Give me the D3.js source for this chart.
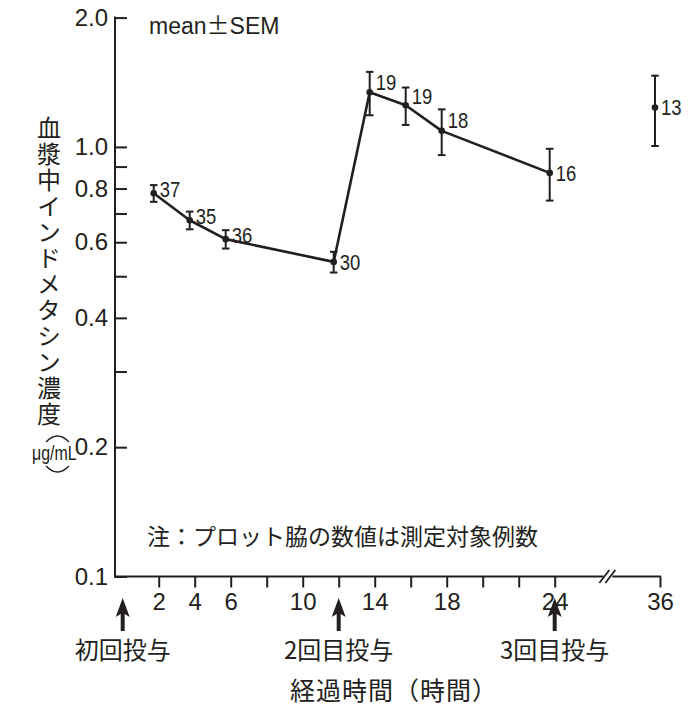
<!DOCTYPE html>
<html>
<head>
<meta charset="utf-8">
<script src="https://cdn.jsdelivr.net/npm/d3@7"></script>
<style>
  body { margin: 0; background: #fff; }
  svg { display: block; }
</style>
</head>
<body>
<script>
// sampling times (h), plasma concentration (ug/mL), SEM, n
const hours = [2, 4, 6, 12, 14, 16, 18, 24, 36];
const meanConc = [0.78, 0.675, 0.61, 0.54, 1.34, 1.25, 1.09, 0.87, 1.235];
const semConc = [0.035, 0.032, 0.03, 0.03, 0.155, 0.125, 0.133, 0.12, 0.23];
const nSubjects = [37, 35, 36, 30, 19, 19, 18, 16, 13];

const doseTimes = [0, 12, 24];
const doseLabels = ["初回投与", "2回目投与", "3回目投与"];

const yTicks = [2.0, 1.0, 0.8, 0.6, 0.4, 0.2, 0.1];
const yMinorTicks = [0.9, 0.7, 0.5, 0.3];
const xTicks = [2, 4, 6, 8, 10, 12, 14, 16, 18, 20, 22, 24, 36];
const xTickLabels = [2, 4, 6, 10, 14, 18, 24, 36];

const yTitle = "血漿中インドメタシン濃度";

const w = 692, h = 707;
const ink = "#231f20";
const latin = "'Liberation Sans', Arial, sans-serif";
const cjk = "'Noto Sans CJK JP', sans-serif";

const svg = d3.select("body").append("svg")
    .attr("width", w)
    .attr("height", h);

const y = d3.scaleLog()
    .domain([0.1, 2])
    .range([576.5, 17.6]);

// piecewise: 0-24 h linear, compressed after the break
const x = d3.scaleLinear()
    .domain([0, 24, 36])
    .range([122.7, 554.7, 660]);

const axisX = 115, breakT = 30;

// y axis
const yAxis = d3.axisLeft(y)
    .tickValues(yTicks.concat(yMinorTicks))
    .tickSizeInner(-12)
    .tickSizeOuter(0)
    .tickPadding(7)
    .tickFormat(d => yTicks.includes(d) ? d3.format(".1f")(d) : "");

const gy = svg.append("g")
    .attr("transform", `translate(${axisX},0)`)
    .call(yAxis);
gy.select(".domain").remove();
gy.selectAll(".tick line").attr("stroke", ink).attr("stroke-width", 2);
gy.selectAll(".tick text")
    .attr("fill", ink)
    .style("font-family", latin)
    .style("font-size", "24px");

svg.append("line")
    .attr("x1", axisX).attr("x2", axisX)
    .attr("y1", y(2) - 1).attr("y2", y(0.1) + 1)
    .attr("stroke", ink).attr("stroke-width", 2);

// x axis
const xAxis = d3.axisBottom(x)
    .tickValues(xTicks)
    .tickSizeInner(11)
    .tickSizeOuter(0)
    .tickPadding(5)
    .tickFormat(d => xTickLabels.includes(d) ? d : "");

const gx = svg.append("g")
    .attr("transform", `translate(0,${y(0.1)})`)
    .call(xAxis);
gx.select(".domain").remove();
gx.selectAll(".tick line").attr("stroke", ink).attr("stroke-width", 2);
gx.selectAll(".tick text")
    .attr("fill", ink)
    .style("font-family", latin)
    .style("font-size", "24px");

const bx = x(breakT);
const y0 = y(0.1);
svg.append("path")
    .attr("d", `M${axisX - 1},${y0}H${bx - 4}M${bx + 5},${y0}H${x(36) + 1}`)
    .attr("fill", "none").attr("stroke", ink).attr("stroke-width", 2);
[-3, 3].forEach(o => {
    svg.append("line")
        .attr("x1", bx + o - 5).attr("y1", y0 + 6.5)
        .attr("x2", bx + o + 5).attr("y2", y0 - 6.5)
        .attr("stroke", ink).attr("stroke-width", 1.8);
});

// data
const data = hours.map((t, i) => ({ t, m: meanConc[i], s: semConc[i], n: nSubjects[i] }));
const plot = svg.append("g").attr("transform", "translate(-5,0)");

const line = d3.line()
    .x(d => x(d.t))
    .y(d => y(d.m));

plot.append("path")
    .datum(data.filter(d => d.t <= 24))
    .attr("d", line)
    .attr("fill", "none")
    .attr("stroke", ink)
    .attr("stroke-width", 2.6)
    .attr("stroke-linejoin", "round");

const bars = plot.selectAll(".err")
    .data(data)
    .enter().append("g").attr("class", "err")
    .attr("stroke", ink)
    .attr("stroke-width", 2);
bars.append("line")
    .attr("x1", d => x(d.t)).attr("x2", d => x(d.t))
    .attr("y1", d => y(d.m + d.s)).attr("y2", d => y(d.m - d.s));
bars.append("line")
    .attr("x1", d => x(d.t) - 3.8).attr("x2", d => x(d.t) + 3.8)
    .attr("y1", d => y(d.m + d.s)).attr("y2", d => y(d.m + d.s));
bars.append("line")
    .attr("x1", d => x(d.t) - 3.8).attr("x2", d => x(d.t) + 3.8)
    .attr("y1", d => y(d.m - d.s)).attr("y2", d => y(d.m - d.s));

plot.selectAll(".pt")
    .data(data)
    .enter().append("circle")
    .attr("cx", d => x(d.t))
    .attr("cy", d => y(d.m))
    .attr("r", 3.3)
    .attr("fill", ink);

// n labels: lifted when the line leaves the point downward
plot.selectAll(".nlab")
    .data(data)
    .enter().append("text")
    .attr("transform", (d, i) => {
        const next = data[i + 1];
        const lift = next && next.t <= 24 && next.m < d.m;
        const ly = lift ? (y(d.m) + y(d.m + d.s)) / 2 : y(d.m);
        return `translate(${x(d.t) + 6},${ly}) scale(0.84,1)`;
    })
    .attr("dy", "0.36em")
    .attr("fill", ink)
    .style("font-family", latin)
    .style("font-size", "22px")
    .text(d => d.n);

// dose arrows
const arrows = svg.selectAll(".dose")
    .data(doseTimes)
    .enter().append("g");
arrows.append("path")
    .attr("d", t => {
        const cx = x(t);
        return `M${cx},598 L${cx - 7},617 L${cx - 2},614 V631 H${cx + 2} V614 L${cx + 7},617 Z`;
    })
    .attr("fill", ink);
arrows.append("text")
    .attr("x", t => x(t))
    .attr("y", 659)
    .attr("text-anchor", "middle")
    .attr("fill", ink)
    .style("font-family", cjk)
    .style("font-size", "24px")
    .text((t, i) => doseLabels[i]);

// texts
svg.append("text")
    .attr("x", 149).attr("y", 34)
    .attr("fill", ink)
    .style("font-family", latin)
    .style("font-size", "23px")
    .html("mean<tspan style=\"font-family:'Noto Sans CJK JP'\">±</tspan>SEM");

svg.append("text")
    .attr("x", 147).attr("y", 545)
    .attr("fill", ink)
    .style("font-family", cjk)
    .style("font-size", "23px")
    .text("注：プロット脇の数値は測定対象例数");

svg.append("text")
    .attr("x", 290).attr("y", 700)
    .attr("fill", ink)
    .style("font-family", cjk)
    .style("font-size", "25px")
    .style("letter-spacing", "1px")
    .text("経過時間（時間）");

// vertical axis title, one text in vertical writing mode
svg.append("text")
    .attr("x", 49)
    .attr("y", 116)
    .attr("writing-mode", "vertical-rl")
    .style("text-orientation", "upright")
    .style("letter-spacing", "2px")
    .attr("fill", ink)
    .style("font-family", cjk)
    .style("font-size", "24px")
    .text(yTitle);

// unit with vertical parentheses
const unit = svg.append("g");
unit.append("text")
    .attr("transform", "translate(32,460) scale(0.76,1)")
    .attr("fill", ink)
    .style("font-family", latin)
    .style("font-size", "21px")
    .text("μg/mL");
unit.append("path")
    .attr("d", "M46,442 Q57.5,430 69,442")
    .attr("fill", "none").attr("stroke", ink).attr("stroke-width", 1.4);
unit.append("path")
    .attr("d", "M46,466 Q57.5,478 69,466")
    .attr("fill", "none").attr("stroke", ink).attr("stroke-width", 1.4);
</script>
</body>
</html>
